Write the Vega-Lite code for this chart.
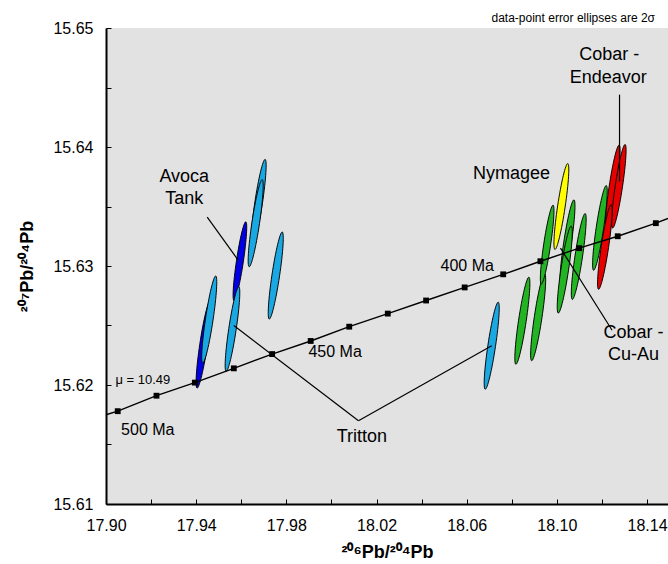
{
  "$schema": "https://vega.github.io/schema/vega-lite/v6.json",
  "autosize": "none",
  "width": 562,
  "height": 476,
  "padding": {"left": 106, "top": 28, "right": 0, "bottom": 60},
  "background": "white",
  "title": {"text": "data-point error ellipses are 2σ", "anchor": "end", "frame": "group", "fontSize": 12, "fontWeight": "normal", "baseline": "alphabetic", "offset": -14, "dx": -13, "color": "black"},
  "datasets": {
    "ellipses": [
      {"deposit": "Avoca Tank", "x": 17.9594, "y": 15.6304, "len": 0.0067},
      {"deposit": "Avoca Tank", "x": 17.9433, "y": 15.6234, "len": 0.0074},
      {"deposit": "Tritton", "x": 17.9677, "y": 15.6353, "len": 0.0074},
      {"deposit": "Tritton", "x": 17.9664, "y": 15.6336, "len": 0.0074},
      {"deposit": "Tritton", "x": 17.9561, "y": 15.6247, "len": 0.0072},
      {"deposit": "Tritton", "x": 17.9753, "y": 15.6292, "len": 0.0074},
      {"deposit": "Tritton", "x": 17.9458, "y": 15.6255, "len": 0.0074},
      {"deposit": "Tritton", "x": 18.0711, "y": 15.6233, "len": 0.0074},
      {"deposit": "Cobar - Cu-Au", "x": 18.0847, "y": 15.6254, "len": 0.0074},
      {"deposit": "Cobar - Cu-Au", "x": 18.0917, "y": 15.6257, "len": 0.0074},
      {"deposit": "Cobar - Cu-Au", "x": 18.0957, "y": 15.6318, "len": 0.0067},
      {"deposit": "Cobar - Cu-Au", "x": 18.1047, "y": 15.6319, "len": 0.0074},
      {"deposit": "Cobar - Cu-Au", "x": 18.1035, "y": 15.6297, "len": 0.0074},
      {"deposit": "Cobar - Cu-Au", "x": 18.1097, "y": 15.6308, "len": 0.0073},
      {"deposit": "Cobar - Cu-Au", "x": 18.1191, "y": 15.6332, "len": 0.0072},
      {"deposit": "Nymagee", "x": 18.1020, "y": 15.6350, "len": 0.0073},
      {"deposit": "Cobar - Endeavor", "x": 18.1248, "y": 15.6366, "len": 0.0072},
      {"deposit": "Cobar - Endeavor", "x": 18.1275, "y": 15.6367, "len": 0.0071},
      {"deposit": "Cobar - Endeavor", "x": 18.1213, "y": 15.6316, "len": 0.0072}
    ],
    "curve": [
      {"age": null, "x": 17.9000, "y": 15.6175},
      {"age": 500, "x": 17.9052, "y": 15.6178},
      {"age": 490, "x": 17.9224, "y": 15.6191},
      {"age": 480, "x": 17.9394, "y": 15.6202},
      {"age": 470, "x": 17.9567, "y": 15.6214},
      {"age": 460, "x": 17.9737, "y": 15.6226},
      {"age": 450, "x": 17.9908, "y": 15.6237},
      {"age": 440, "x": 18.0079, "y": 15.6249},
      {"age": 430, "x": 18.0250, "y": 15.6260},
      {"age": 420, "x": 18.0420, "y": 15.6271},
      {"age": 410, "x": 18.0591, "y": 15.6282},
      {"age": 400, "x": 18.0762, "y": 15.6293},
      {"age": 390, "x": 18.0927, "y": 15.6304},
      {"age": 380, "x": 18.1099, "y": 15.6315},
      {"age": 370, "x": 18.1270, "y": 15.6325},
      {"age": 360, "x": 18.1439, "y": 15.6336},
      {"age": null, "x": 18.1493, "y": 15.6340}
    ],
    "leaders": [
      {"x": 17.9449, "y": 15.6341, "x2": 17.9586, "y2": 15.6305},
      {"x": 17.9567, "y": 15.6250, "x2": 18.0120, "y2": 15.6170},
      {"x": 18.0711, "y": 15.6233, "x2": 18.0120, "y2": 15.6170},
      {"x": 18.1016, "y": 15.6315, "x2": 18.1245, "y2": 15.6246},
      {"x": 18.1278, "y": 15.6444, "x2": 18.1278, "y2": 15.6371}
    ],
    "labels": [
      {"text": "500 Ma", "x": 17.9067, "y": 15.6162, "kind": "age"},
      {"text": "450 Ma", "x": 17.9898, "y": 15.6228, "kind": "age"},
      {"text": "400 Ma", "x": 18.0484, "y": 15.6300, "kind": "age"},
      {"text": "μ = 10.49", "x": 17.9042, "y": 15.6204, "kind": "mu"},
      {"text": "Avoca", "x": 17.9347, "y": 15.6375, "kind": "name"},
      {"text": "Tank", "x": 17.9347, "y": 15.6356, "kind": "name"},
      {"text": "Tritton", "x": 18.0135, "y": 15.6156, "kind": "name"},
      {"text": "Nymagee", "x": 18.0799, "y": 15.6377, "kind": "name"},
      {"text": "Cobar -", "x": 18.1232, "y": 15.6477, "kind": "name"},
      {"text": "Endeavor", "x": 18.1228, "y": 15.6458, "kind": "name"},
      {"text": "Cobar -", "x": 18.1340, "y": 15.6244, "kind": "name"},
      {"text": "Cu-Au", "x": 18.1340, "y": 15.6225, "kind": "name"}
    ]
  },
  "layer": [
    {
      "data": {"name": "ellipses"},
      "mark": {
        "type": "point",
        "filled": true,
        "opacity": 1,
        "stroke": "black",
        "strokeWidth": 0.9,
        "angle": 8.5,
        "shape": "M0,-1C0.048,-1 0.087,-0.552 0.087,0C0.087,0.552 0.048,1 0,1C-0.048,1 -0.087,0.552 -0.087,0C-0.087,-0.552 -0.048,-1 0,-1Z"
      },
      "encoding": {
        "x": {
          "field": "x", "type": "quantitative", "title": "²⁰⁶Pb/²⁰⁴Pb",
          "scale": {"domain": [17.9, 18.1493], "nice": false, "zero": false},
          "axis": {
            "values": [17.90, 17.92, 17.94, 17.96, 17.98, 18.00, 18.02, 18.04, 18.06, 18.08, 18.10, 18.12, 18.14],
            "labelExpr": "abs((datum.value-17.9)*25 - round((datum.value-17.9)*25)) < 0.01 ? format(datum.value, '.2f') : ''",
            "labelPadding": 18,
            "titlePadding": 10
          }
        },
        "y": {
          "field": "y", "type": "quantitative", "title": "²⁰⁷Pb/²⁰⁴Pb",
          "scale": {"domain": [15.61, 15.65], "nice": false, "zero": false},
          "axis": {
            "values": [15.61, 15.615, 15.62, 15.625, 15.63, 15.635, 15.64, 15.645, 15.65],
            "labelExpr": "abs(datum.value*100 - round(datum.value*100)) < 0.01 ? format(datum.value, '.2f') : ''",
            "labelPadding": 18,
            "titlePadding": 16
          }
        },
        "color": {
          "field": "deposit", "type": "nominal", "legend": null,
          "scale": {"domain": ["Avoca Tank", "Tritton", "Cobar - Cu-Au", "Nymagee", "Cobar - Endeavor"], "range": ["#0000e6", "#1aa8e2", "#22b422", "#ffff00", "#e60000"]}
        },
        "size": {
          "field": "len", "type": "quantitative", "legend": null,
          "scale": {"type": "pow", "exponent": 2, "domain": [0, 0.01], "range": [0, 14161]}
        }
      }
    },
    {
      "data": {"name": "curve"},
      "mark": {"type": "line", "color": "black", "strokeWidth": 1.4},
      "encoding": {
        "x": {"field": "x", "type": "quantitative", "title": "²⁰⁶Pb/²⁰⁴Pb"},
        "y": {"field": "y", "type": "quantitative", "title": "²⁰⁷Pb/²⁰⁴Pb"}
      }
    },
    {
      "data": {"name": "curve"},
      "transform": [{"filter": "isValid(datum.age)"}],
      "mark": {"type": "square", "color": "black", "filled": true, "opacity": 1, "size": 34},
      "encoding": {
        "x": {"field": "x", "type": "quantitative", "title": "²⁰⁶Pb/²⁰⁴Pb"},
        "y": {"field": "y", "type": "quantitative", "title": "²⁰⁷Pb/²⁰⁴Pb"}
      }
    },
    {
      "data": {"name": "leaders"},
      "mark": {"type": "rule", "color": "black", "strokeWidth": 1.2},
      "encoding": {
        "x": {"field": "x", "type": "quantitative", "title": "²⁰⁶Pb/²⁰⁴Pb"},
        "y": {"field": "y", "type": "quantitative", "title": "²⁰⁷Pb/²⁰⁴Pb"},
        "x2": {"field": "x2"},
        "y2": {"field": "y2"}
      }
    },
    {
      "data": {"name": "labels"},
      "transform": [{"filter": "datum.kind == 'age'"}],
      "mark": {"type": "text", "align": "left", "baseline": "middle", "fontSize": 16, "color": "black"},
      "encoding": {
        "x": {"field": "x", "type": "quantitative", "title": "²⁰⁶Pb/²⁰⁴Pb"},
        "y": {"field": "y", "type": "quantitative", "title": "²⁰⁷Pb/²⁰⁴Pb"},
        "text": {"field": "text"}
      }
    },
    {
      "data": {"name": "labels"},
      "transform": [{"filter": "datum.kind == 'mu'"}],
      "mark": {"type": "text", "align": "left", "baseline": "middle", "fontSize": 13, "color": "black"},
      "encoding": {
        "x": {"field": "x", "type": "quantitative", "title": "²⁰⁶Pb/²⁰⁴Pb"},
        "y": {"field": "y", "type": "quantitative", "title": "²⁰⁷Pb/²⁰⁴Pb"},
        "text": {"field": "text"}
      }
    },
    {
      "data": {"name": "labels"},
      "transform": [{"filter": "datum.kind == 'name'"}],
      "mark": {"type": "text", "align": "center", "baseline": "middle", "fontSize": 18, "color": "black"},
      "encoding": {
        "x": {"field": "x", "type": "quantitative", "title": "²⁰⁶Pb/²⁰⁴Pb"},
        "y": {"field": "y", "type": "quantitative", "title": "²⁰⁷Pb/²⁰⁴Pb"},
        "text": {"field": "text"}
      }
    },
    {
      "mark": {"type": "rule", "color": "black", "strokeWidth": 2},
      "encoding": {
        "y": {"datum": 15.65, "type": "quantitative", "title": "²⁰⁷Pb/²⁰⁴Pb"}
      }
    }
  ],
  "config": {
    "font": "Liberation Sans",
    "view": {"fill": "#e2e2e2", "stroke": null},
    "axis": {
      "grid": false,
      "domainColor": "black",
      "domainWidth": 2,
      "tickColor": "black",
      "tickWidth": 1,
      "tickSize": -5,
      "labelFontSize": 16,
      "labelColor": "black",
      "labelFlush": false,
      "labelOverlap": false,
      "titleFontSize": 18,
      "titleFontWeight": "bold",
      "titleColor": "black"
    }
  }
}
